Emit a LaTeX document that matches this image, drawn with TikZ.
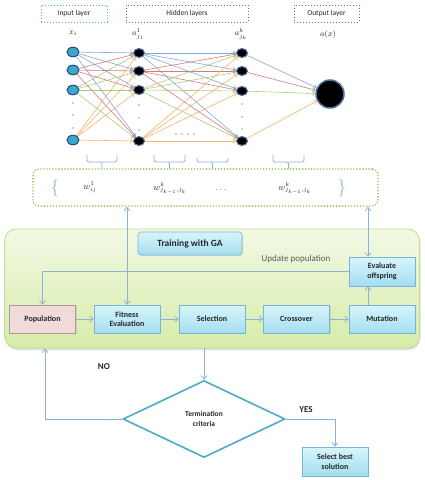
\documentclass[tikz,border=0pt]{standalone}
\usepackage{fontspec}
\setmainfont{Carlito}
\usetikzlibrary{arrows.meta,shapes.geometric,shadows,calc}
\definecolor{eblue}{RGB}{110,155,215}
\definecolor{ered}{RGB}{210,100,95}
\definecolor{egreen}{RGB}{160,195,100}
\definecolor{eorange}{RGB}{247,165,90}
\definecolor{conncol}{RGB}{143,176,219}
\definecolor{boxborder}{RGB}{120,180,215}
\definecolor{boxtop}{RGB}{215,245,252}
\definecolor{boxbot}{RGB}{165,222,240}
\definecolor{pinkfill}{RGB}{242,218,218}
\definecolor{gatop}{RGB}{242,249,228}
\definecolor{gabot}{RGB}{214,236,168}
\definecolor{gaborder}{RGB}{195,220,145}
\definecolor{wgreen}{RGB}{141,184,58}
\definecolor{teal}{RGB}{75,172,198}
\definecolor{dblue}{RGB}{68,114,196}
\definecolor{incol}{RGB}{58,168,200}
\definecolor{nodeline}{RGB}{40,80,140}
\tikzset{
  gabox/.style={rectangle, draw=boxborder, line width=0.6pt, top color=boxtop, bottom color=boxbot,
    minimum width=66pt, minimum height=28pt, inner sep=1pt, align=center,
    font=\fontsize{8}{9.5}\selectfont\bfseries, text=black!85,
    drop shadow={opacity=0.2, shadow xshift=1pt, shadow yshift=-1pt}},
  conn/.style={draw=conncol, line width=0.8pt, -{Straight Barb[length=3.5pt,width=6pt]}},
  edge/.style={line width=0.6pt, opacity=0.85, -{Straight Barb[length=2.5pt,width=4.5pt]}},
  innode/.style={ellipse, draw=nodeline, line width=1.1pt, fill=incol, minimum width=12pt, minimum height=9.5pt, inner sep=0pt},
  hnode/.style={ellipse, draw=nodeline!80!white, line width=1.1pt, fill=black, minimum width=11pt, minimum height=9pt, inner sep=0pt},
  dotnode/.style={circle, fill=black!80, minimum size=1.2pt, inner sep=0pt},
  layerbox/.style={rectangle, dotted, line width=1pt, minimum height=17pt, inner sep=0pt,
    font=\fontsize{7.5}{9}\selectfont, text=black!85},
  bracecol/.style={draw=conncol, line width=0.8pt, rounded corners=1.5pt},
  lbl/.style={font=\fontsize{8}{9}\selectfont, text=black!85, inner sep=0pt},
  wlbl/.style={font=\fontsize{9}{10}\selectfont, text=black!85, inner sep=0pt},
}
\begin{document}
\begin{tikzpicture}[x=1pt,y=-1pt]
\useasboundingbox (0,0) rectangle (424,480);
\fill[white] (0,0) rectangle (424,480);
% layer boxes
\node[layerbox, draw=teal, minimum width=66pt] (linput) at (74,13.5) {Input layer};
\node[layerbox, draw=dblue, minimum width=122pt] (lhidden) at (187,13.5) {Hidden layers};
\node[layerbox, draw=dblue, minimum width=65pt] (loutput) at (326.5,13.5) {Output layer};
% layer labels
\node[lbl] (lx) at (73,33) {$x_i$};
\node[lbl] (la1) at (138,34) {$a^{1}_{j_1}$};
\node[lbl] (lak) at (241,34) {$a^{k}_{j_{k}}$};
\node[lbl] (lax) at (328,34) {$a(x)$};
% network nodes
\foreach \i/\y in {1/52,2/70,3/90,4/140} {\node[innode] (in\i) at (73,\y) {};}
\foreach \i/\y in {1/53,2/71,3/90,4/141} {\node[hnode] (h\i) at (139,\y) {};}
\foreach \i/\y in {1/53,2/71,3/91,4/141} {\node[hnode] (k\i) at (242,\y) {};}
\node[circle, draw=nodeline!80!white, line width=1.5pt, fill=black, minimum size=28pt, inner sep=0pt] (out) at (330,94) {};
\foreach \y [count=\n] in {103,115,128} {\node[dotnode] (din\n) at (73,\y) {};}
\foreach \y [count=\n] in {105,118,130} {\node[dotnode] (dh\n) at (139,\y) {};}
\foreach \y [count=\n] in {104,117,129} {\node[dotnode] (dk\n) at (242,\y) {};}
\foreach \x [count=\n] in {176,182,188,194} {\node[dotnode] (dm\n) at (\x,134) {};}
% edges
\foreach \i/\c in {1/eblue,2/ered,3/egreen,4/eorange} {
  \foreach \j in {1,...,4} {
    \draw[edge,\c] (in\i) -- (h\j);
    \draw[edge,\c] (h\i) -- (k\j);
  }
  \draw[edge,\c] (k\i) -- (out);
}
% braces
\foreach \a/\b/\t in {87/117/155,154/185/155,197/228/158,273/304/155} {
  \draw[bracecol] (\a,\t) |- ({(\a+\b)/2},162) -- ({(\a+\b)/2},168.5);
  \draw[bracecol] (\b,\t) |- ({(\a+\b)/2},162);
}
% weights box
\node[rectangle, rounded corners=6pt, draw=wgreen, line width=1.6pt, dash pattern=on 0.01pt off 3pt, line cap=round,
  minimum width=345pt, minimum height=37pt] (wbox) at (205.5,187.5) {};
\node[font=\LARGE, text=conncol] (lbr) at (55,188) {$\{$};
\node[font=\LARGE, text=conncol] (rbr) at (342,188) {$\}$};
\node[wlbl] (w1) at (90,187) {$w^{1}_{ij}$};
\node[wlbl] (w2) at (170,188) {$w^{k}_{j_{k-1},j_k}$};
\node[wlbl] (w3) at (221,190) {$\dots$};
\node[wlbl] (w4) at (295,188) {$w^{k}_{j_{k-1},j_k}$};
% GA big box
\node[rectangle, rounded corners=12pt, draw=gaborder, line width=0.8pt, top color=gatop, bottom color=gabot,
  minimum width=415pt, minimum height=119pt,
  drop shadow={opacity=0.25, shadow xshift=1pt, shadow yshift=-2pt}] (ga) at (212,288.5) {};
\node[gabox, rounded corners=3pt, minimum width=104pt, minimum height=23pt, font=\fontsize{9.5}{11}\selectfont\bfseries] (train) at (190,243.5) {Training with GA};
\node[font=\fontsize{9}{10}\selectfont, text=black!65] (upd) at (296,259) {Update population};
\node[gabox, minimum height=29pt] (eval) at (382,271.5) {Evaluate\\offspring};
\node[gabox, top color=pinkfill, bottom color=pinkfill, draw=pinkfill!70!black] (pop) at (42.5,319) {Population};
\node[gabox] (fit) at (127,319) {Fitness\\Evaluation};
\node[gabox] (sel) at (212,319) {Selection};
\node[gabox] (cro) at (296.5,319) {Crossover};
\node[gabox] (mut) at (382,319) {Mutation};
% GA connectors
\draw[conn] (pop) -- (fit);
\draw[conn] (fit) -- (sel);
\draw[conn] (sel) -- (cro);
\draw[conn] (cro) -- (mut);
\draw[conn] ([xshift=-14pt]mut.north) -- ([xshift=-14pt]eval.south);
\draw[conn] (eval.west) -| (pop.north);
\draw[conn, {Straight Barb[length=3.5pt,width=6pt]}-{Straight Barb[length=3.5pt,width=6pt]}] (fit.north |- wbox.south) -- (fit.north);
\draw[conn, {Straight Barb[length=3.5pt,width=6pt]}-{Straight Barb[length=3.5pt,width=6pt]}] ([xshift=-14pt]eval.north |- wbox.south) -- ([xshift=-14pt]eval.north);
% termination
\node[diamond, draw=teal, line width=1.6pt, fill=white, minimum width=162pt, minimum height=77pt, inner sep=0pt,
  align=center, font=\fontsize{7.5}{9.5}\selectfont\bfseries, text=black!85] (dec) at (204,419) {Termination\\criteria};
\node[gabox, minimum height=29pt] (best) at (335,461.5) {Select best\\solution};
\coordinate (noend) at (45,348.5);
\draw[conn] (dec.north |- ga.south) -- (dec.north);
\draw[conn] (dec.west) -| (noend);
\draw[conn] (dec.east) -| (best.north);
\node[font=\fontsize{9}{10}\selectfont\bfseries, text=black!85] (no) at (104,367) {NO};
\node[font=\fontsize{9}{10}\selectfont\bfseries, text=black!85] (yes) at (306,410) {YES};
\end{tikzpicture}
\end{document}
